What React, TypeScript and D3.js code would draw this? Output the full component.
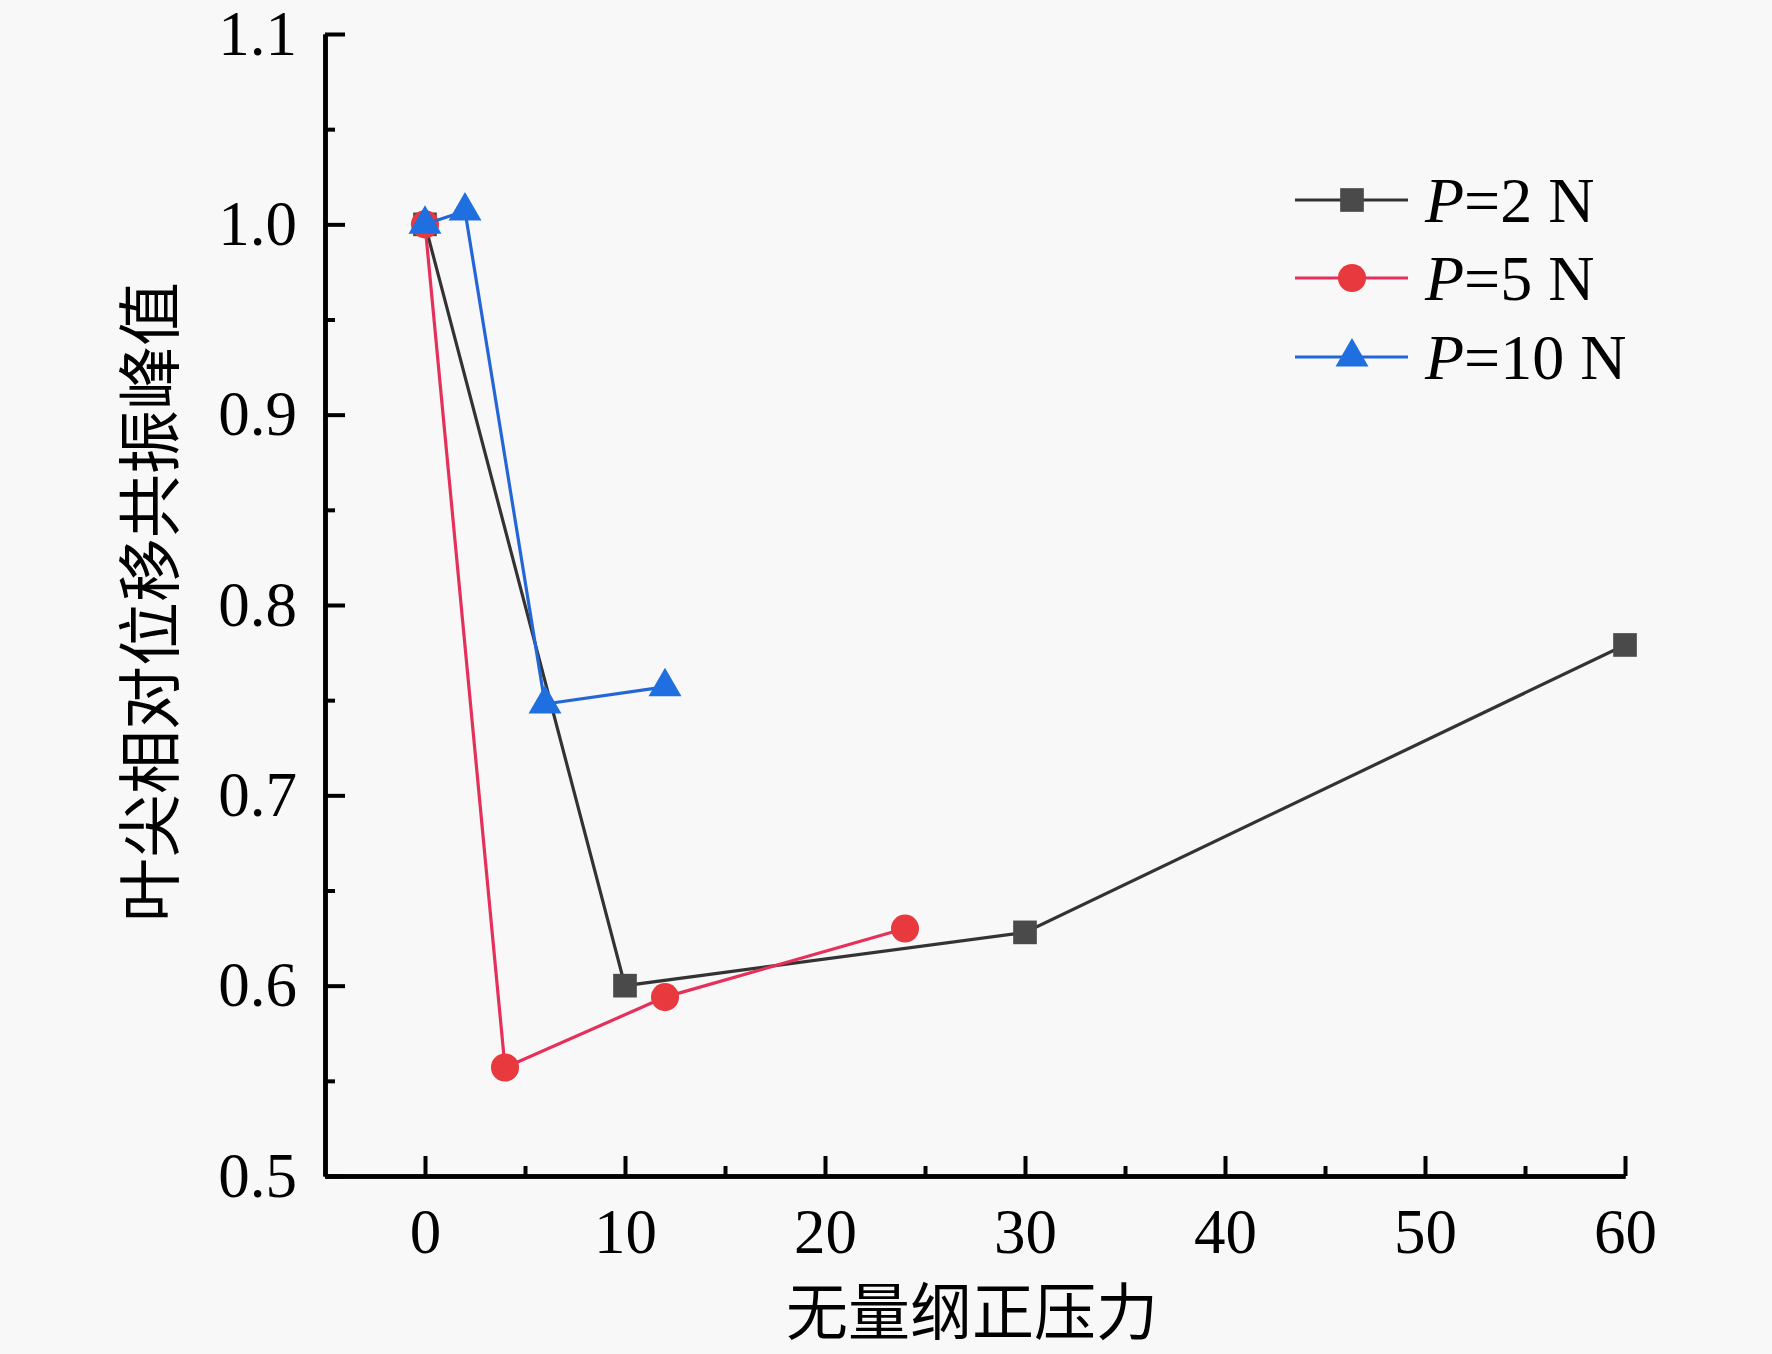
import React, { useEffect, useRef } from 'react';
import * as d3 from 'd3';

const WIDTH = 1772;
const HEIGHT = 1354;

const margin = { l: 325, r: 147, t: 34, b: 178 };

// 数据
const seriesNames = ['2', '5', '10'];
const xP2 = [0, 10, 30, 60];
const yP2 = [1.0, 0.6, 0.628, 0.779];
const xP5 = [0, 4, 12, 24];
const yP5 = [1.0, 0.557, 0.594, 0.63];
const xP10 = [0, 2, 6, 12];
const yP10 = [1.0, 1.007, 0.748, 0.757];

const xTicks = [0, 10, 20, 30, 40, 50, 60];
const yTicks = [0.5, 0.6, 0.7, 0.8, 0.9, 1.0, 1.1];

const xTitle = '无量纲正压力';
const yTitle = '叶尖相对位移共振峰值';

const lineColors = ['#333333', '#e5305a', '#2566d6'];
const markColors = ['#4a4a4a', '#e8393f', '#1f6fe0'];
const symbols = [d3.symbolSquare, d3.symbolCircle, d3.symbolTriangle];
const symbolSizes = [560, 620, 470];

const serif = '"Liberation Serif", "Times New Roman", serif';
const cjk = '"Noto Sans CJK SC", sans-serif';

const App = () => {
  const widthMap = WIDTH - margin.l - margin.r;
  const heightMap = HEIGHT - margin.t - margin.b;

  const xScale = d3.scaleLinear().domain([-5, 60]).range([0, widthMap]);
  const yScale = d3.scaleLinear().domain([0.5, 1.1]).range([heightMap, 0]);

  const $xaxis: any = useRef(null);
  const $xminor: any = useRef(null);
  const $yaxis: any = useRef(null);
  const $yminor: any = useRef(null);

  useEffect(() => {
    const xAxis = d3
      .axisBottom(xScale)
      .tickValues(xTicks)
      .tickSizeInner(-20)
      .tickSizeOuter(0)
      .tickPadding(32)
      .tickFormat(d3.format('d') as any);
    const xMinor = d3
      .axisBottom(xScale)
      .tickValues(d3.range(5, 60, 10))
      .tickSizeInner(-10)
      .tickSizeOuter(0)
      .tickFormat('' as any);
    const yAxis = d3
      .axisLeft(yScale)
      .tickValues(yTicks)
      .tickSizeInner(-20)
      .tickSizeOuter(0)
      .tickPadding(28)
      .tickFormat(d3.format('.1f') as any);
    const yMinor = d3
      .axisLeft(yScale)
      .tickValues(d3.range(0.55, 1.1, 0.1))
      .tickSizeInner(-10)
      .tickSizeOuter(0)
      .tickFormat('' as any);

    [
      [$xminor, xMinor],
      [$yminor, yMinor],
      [$xaxis, xAxis],
      [$yaxis, yAxis],
    ].forEach(([ref, ax]: any) => {
      const g = d3.select(ref.current);
      g.call(ax);
      g.selectAll('line').attr('stroke', '#000').attr('stroke-width', 4);
      g.select('path.domain').attr('stroke', '#000').attr('stroke-width', 4.5);
      g.selectAll('text')
        .attr('fill', '#000')
        .style('font-family', serif)
        .style('font-size', '63px');
    });
  }, [xScale, yScale]);

  const line = d3
    .line<[number, number]>()
    .x((d) => xScale(d[0]))
    .y((d) => yScale(d[1]));

  const series = [
    d3.zip(xP2, yP2),
    d3.zip(xP5, yP5),
    d3.zip(xP10, yP10),
  ] as [number, number][][];

  const legendY = [200, 278, 357];

  return (
    <svg
      width={WIDTH}
      height={HEIGHT}
      viewBox={`0 0 ${WIDTH} ${HEIGHT}`}
      style={{ position: 'absolute', left: 0, top: 0, background: '#f8f8f8' }}
    >
      <rect x={0} y={0} width={WIDTH} height={HEIGHT} fill="#f8f8f8" />
      <g transform={`translate(${margin.l}, ${margin.t})`}>
        <g ref={$xminor} transform={`translate(0, ${heightMap})`} />
        <g ref={$yminor} />
        <g ref={$xaxis} transform={`translate(0, ${heightMap})`} />
        <g ref={$yaxis} />

        {series.map((datum, i) => (
          <g key={`s-${i}`}>
            <path
              d={line(datum) || ''}
              stroke={lineColors[i]}
              strokeWidth={3.2}
              fill="none"
            />
            {datum.map((d, j) => (
              <path
                key={`m-${i}-${j}`}
                transform={`translate(${xScale(d[0])}, ${yScale(d[1])})`}
                d={d3.symbol(symbols[i], symbolSizes[i])() || ''}
                fill={markColors[i]}
              />
            ))}
          </g>
        ))}
      </g>

      {/* legend */}
      {seriesNames.map((name, i) => (
        <g key={`l-${i}`} transform={`translate(0, ${legendY[i]})`}>
          <line x1={1295} x2={1408} y1={0} y2={0} stroke={lineColors[i]} strokeWidth={3.2} />
          <path
            transform="translate(1352, 0)"
            d={d3.symbol(symbols[i], symbolSizes[i])() || ''}
            fill={markColors[i]}
          />
          <text
            x={1425}
            y={0}
            dy="0.34em"
            style={{ fontFamily: serif, fontSize: 64 }}
            fill="#000"
          >
            <tspan fontStyle="italic">P</tspan>={name} N
          </text>
        </g>
      ))}

      <text
        x={972}
        y={1308}
        textAnchor="middle"
        dominantBaseline="central"
        style={{ fontFamily: cjk, fontSize: 62 }}
        fill="#000"
      >
        {xTitle}
      </text>
      <text
        transform="translate(145, 602) rotate(-90)"
        textAnchor="middle"
        dominantBaseline="central"
        style={{ fontFamily: cjk, fontSize: 64 }}
        fill="#000"
      >
        {yTitle}
      </text>
    </svg>
  );
};

export default App;
